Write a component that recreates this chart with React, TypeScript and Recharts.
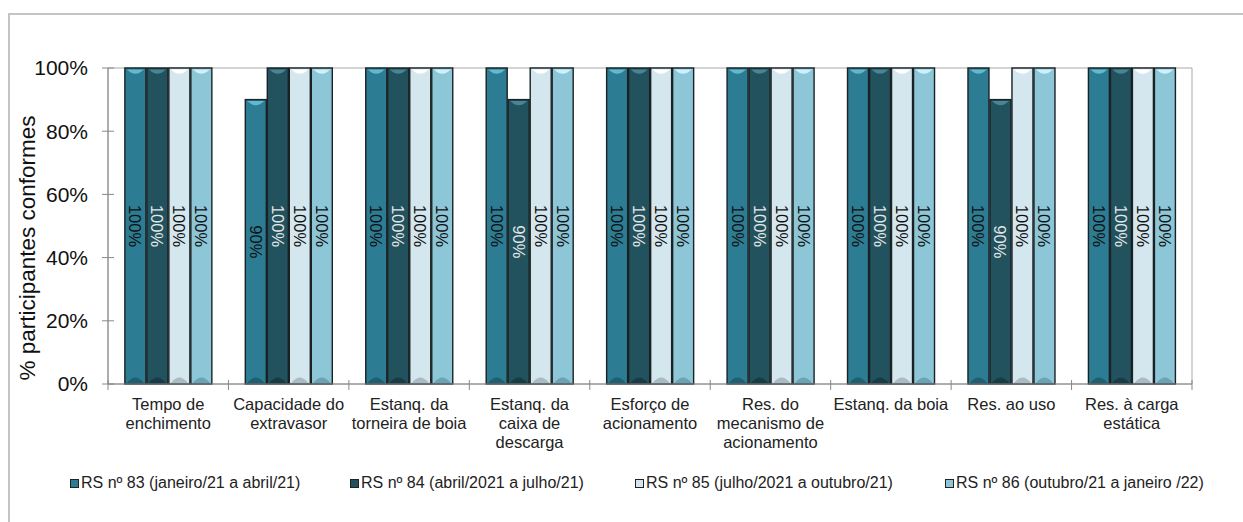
import React from 'react';
import { Bar, BarChart, LabelList, ReferenceArea, XAxis, YAxis } from 'recharts';

const categories = [
  'Tempo de\nenchimento',
  'Capacidade do\nextravasor',
  'Estanq. da\ntorneira de boia',
  'Estanq. da\ncaixa de\ndescarga',
  'Esforço de\nacionamento',
  'Res. do\nmecanismo de\nacionamento',
  'Estanq. da boia',
  'Res. ao uso',
  'Res. à carga\nestática',
];

const rs83 = [100, 90, 100, 100, 100, 100, 100, 100, 100];
const rs84 = [100, 100, 100, 90, 100, 100, 100, 90, 100];
const rs85 = [100, 100, 100, 100, 100, 100, 100, 100, 100];
const rs86 = [100, 100, 100, 100, 100, 100, 100, 100, 100];

const yTicks = [0, 20, 40, 60, 80, 100];

const series = [
  { key: 'rs83', name: 'RS nº 83 (janeiro/21 a abril/21)', values: rs83, fill: '#2c7c93', top: '#63b8cd', bottom: '#1f5f72', label: '#111' },
  { key: 'rs84', name: 'RS nº 84 (abril/2021 a julho/21)', values: rs84, fill: '#22525e', top: '#4a8593', bottom: '#173c45', label: '#e6e6e6' },
  { key: 'rs85', name: 'RS nº 85 (julho/2021 a outubro/21)', values: rs85, fill: '#d4e7ee', top: '#ffffff', bottom: '#a9bcc3', label: '#111' },
  { key: 'rs86', name: 'RS nº 86 (outubro/21 a janeiro /22)', values: rs86, fill: '#8cc6d7', top: '#cdf1fa', bottom: '#6aa3b4', label: '#111' },
];

const legendX = [70, 350, 635, 945];

const data = categories.map((name, i) => {
  const row: Record<string, string | number> = { name };
  series.forEach((s) => {
    row[s.key] = s.values[i];
  });
  return row;
});

const WIDTH = 1243;
const HEIGHT = 522;
const MARGIN = { top: 68, right: 51, left: 48, bottom: 58 };
const Y_AXIS_W = 60;
const FONT = '"Liberation Sans", Arial, sans-serif';
const band = (WIDTH - MARGIN.left - MARGIN.right - Y_AXIS_W) / categories.length;

function YTick(props: any) {
  const { x, y, payload } = props;
  return (
    <g>
      <line x1={x + 14} x2={x + 26} y1={y} y2={y} stroke="#888" strokeWidth={1} />
      <text x={x} y={y} dy="0.35em" textAnchor="end" fontSize={21} fill="#111" fontFamily={FONT}>
        {payload.value}%
      </text>
    </g>
  );
}

function XTick(props: any) {
  const { x, y, payload, index } = props;
  const lines = String(payload.value).split('\n');
  return (
    <g>
      {index === 0 && (
        <line x1={x - band / 2} x2={x - band / 2} y1={y - 4} y2={y + 6} stroke="#888" />
      )}
      <line x1={x + band / 2} x2={x + band / 2} y1={y - 4} y2={y + 6} stroke="#888" />
      <text textAnchor="middle" fontSize={16.5} fill="#222" fontFamily={FONT}>
        {lines.map((l, i) => (
          <tspan key={i} x={x} y={y + 26 + i * 19}>
            {l}
          </tspan>
        ))}
      </text>
    </g>
  );
}

function makeShape(s: (typeof series)[number]) {
  return (props: any) => {
    const { x, y, width: w, height: h } = props;
    if (!h || h <= 0) return <g />;
    return (
      <g>
        <rect x={x} y={y} width={w} height={h} fill={s.fill} stroke="#1a2225" strokeWidth={1.4} />
        <path
          d={`M${x + 2},${y + 1.5} L${x + w - 2},${y + 1.5} Q${x + w / 2},${y + 10} ${x + 2},${y + 1.5} Z`}
          fill={s.top}
        />
        <path
          d={`M${x + 2},${y + h - 1} Q${x + w / 2},${y + h - 12} ${x + w - 2},${y + h - 1} Z`}
          fill={s.bottom}
        />
      </g>
    );
  };
}

function makeLabel(s: (typeof series)[number]) {
  return (props: any) => {
    const { x, y, width, height, value } = props;
    const cx = x + width / 2;
    const cy = y + height / 2;
    return (
      <text
        x={cx}
        y={cy}
        transform={`rotate(90 ${cx} ${cy})`}
        textAnchor="middle"
        dominantBaseline="central"
        fontSize={16.5}
        fill={s.label}
        fontFamily={FONT}
      >
        {value}%
      </text>
    );
  };
}

export default function App() {
  return (
    <div style={{ position: 'absolute', left: 0, top: 0, width: WIDTH, height: HEIGHT, overflow: 'hidden', background: '#fff', fontFamily: FONT }}>
      <div
        style={{
          position: 'absolute',
          left: 8,
          top: 13,
          width: WIDTH,
          height: HEIGHT,
          borderLeft: '2px solid #c4c4c4',
          borderTop: '2px solid #c4c4c4',
        }}
      />
      <div
        style={{
          position: 'absolute',
          left: 28,
          top: 248,
          transform: 'translate(-50%, -50%) rotate(-90deg)',
          whiteSpace: 'nowrap',
          fontSize: 22.5,
          color: '#111',
        }}
      >
        % participantes conformes
      </div>
      <div style={{ position: 'absolute', left: 0, top: 0 }}>
        <BarChart width={WIDTH} height={HEIGHT} data={data} margin={MARGIN} barCategoryGap="14%" barGap={1}>
          <ReferenceArea y1={0} y2={100} fill="none" stroke="#a8a8a8" strokeWidth={1} ifOverflow="visible" />
          <XAxis
            dataKey="name"
            interval={0}
            height={80}
            tickLine={false}
            tickSize={0}
            tickMargin={0}
            axisLine={{ stroke: '#888' }}
            tick={<XTick />}
          />
          <YAxis
            width={Y_AXIS_W}
            domain={[0, 100]}
            ticks={yTicks}
            tickLine={false}
            tickSize={0}
            tickMargin={20}
            axisLine={{ stroke: '#888' }}
            tick={<YTick />}
          />
          {series.map((s) => (
            <Bar key={s.key} dataKey={s.key} name={s.name} fill={s.fill} isAnimationActive={false} shape={makeShape(s)}>
              <LabelList dataKey={s.key} content={makeLabel(s)} />
            </Bar>
          ))}
        </BarChart>
      </div>
      {series.map((s, i) => (
        <div
          key={s.key}
          style={{
            position: 'absolute',
            left: legendX[i],
            top: 474,
            display: 'flex',
            alignItems: 'center',
            fontSize: 16,
            color: '#222',
            whiteSpace: 'nowrap',
          }}
        >
          <span
            style={{
              display: 'inline-block',
              width: 7,
              height: 7,
              background: s.fill,
              border: '1px solid #222',
              marginRight: 2,
            }}
          />
          {s.name}
        </div>
      ))}
    </div>
  );
}
